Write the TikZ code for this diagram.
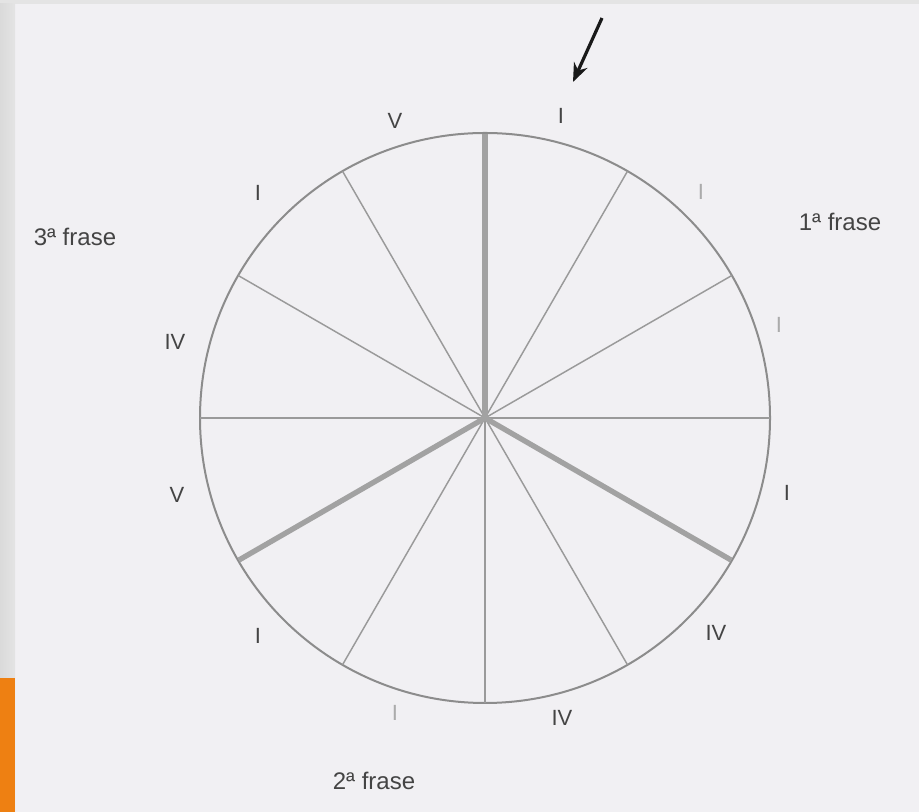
\documentclass[tikz,border=0pt]{standalone}
\usepackage{fontspec}
\setmainfont{Liberation Sans}
\usetikzlibrary{calc,arrows.meta}
\definecolor{panel}{HTML}{F1F0F3}
\definecolor{frame}{HTML}{E4E4E4}
\definecolor{strip}{HTML}{DADADA}
\definecolor{orangebar}{HTML}{EE8012}
\definecolor{ringgray}{HTML}{8C8C8C}
\definecolor{spokegray}{HTML}{9A9A9A}
\definecolor{thickgray}{HTML}{A2A2A2}
\definecolor{labeldark}{HTML}{444444}
\definecolor{labellight}{HTML}{ABABAB}
\tikzset{
  ring/.style={draw=ringgray, line width=1.5pt},
  spoke/.style={draw=spokegray, line width=1.1pt},
  thickspoke/.style={draw=thickgray, line width=4pt},
  deg/.style={font=\fontsize{16.5}{17}\selectfont, text=labeldark, inner sep=0pt},
  degfaint/.style={deg, text=labellight},
  phrase/.style={font=\fontsize{18}{20}\selectfont, text=labeldark, inner sep=0pt},
  pointer/.style={draw=black!90, line width=2.4pt, -{Stealth[length=14pt,width=11pt]}}
}
\begin{document}
\begin{tikzpicture}[x=0.75pt,y=0.75pt]
\useasboundingbox (0,0) rectangle (919,812);
% background
\fill[panel] (0,0) rectangle (919,812);
\fill[frame] (0,808) rectangle (919,812);
\shade[left color=strip, right color=frame] (0,0) rectangle (15,808);
\fill[orangebar] (0,0) rectangle (15,134);
% circle
\coordinate (c) at (485,394);
\draw[ring] (c) circle (285);
\foreach \a in {0,30,60,120,150,180,240,270,300} {
  \coordinate (r\a) at ($(c)+(\a:285)$);
  \draw[spoke] (c) -- (r\a);
}
\foreach \a in {90,210,330} {
  \coordinate (r\a) at ($(c)+(\a:284)$);
  \draw[thickspoke] (c) -- (r\a);
}
% degree labels
\node[deg] (l75) at (561,696) {I};
\node[degfaint] (l45) at (701,620) {I};
\node[degfaint] (l15) at (779,487) {I};
\node[deg] (lm15) at (787,319) {I};
\node[deg] (lm45) at (716,179) {IV};
\node[deg] (lm75) at (562,94) {IV};
\node[degfaint] (lm105) at (395,99) {I};
\node[deg] (lm135) at (258,176) {I};
\node[deg] (lm165) at (177,317) {V};
\node[deg] (l165) at (175,470) {IV};
\node[deg] (l135) at (258,619) {I};
\node[deg] (l105) at (395,691) {V};
% phrases
\node[phrase] (f3) at (75,575) {3ª frase};
\node[phrase] (f1) at (840,590) {1ª frase};
\node[phrase] (f2) at (374,31) {2ª frase};
% pointer arrow
\coordinate (as) at (602,794);
\coordinate (ae) at (573,730);
\draw[pointer] (as) -- (ae);
\end{tikzpicture}
\end{document}
